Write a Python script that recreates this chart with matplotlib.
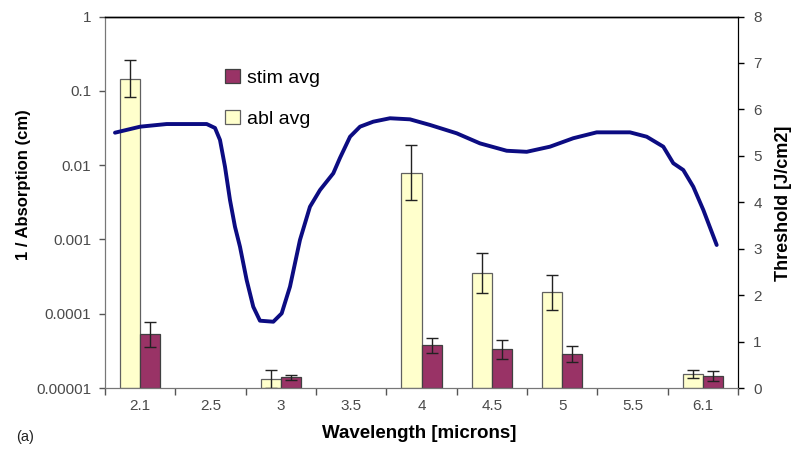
import numpy as np
import matplotlib
matplotlib.use("Agg")
import matplotlib.pyplot as plt
from matplotlib.patches import Patch

plt.rcParams['font.family'] = ['Liberation Sans', 'DejaVu Sans']

# ---- data ----
categories = ["2.1", "2.5", "3", "3.5", "4", "4.5", "5", "5.5", "6.1"]
abl_avg = [6.66, np.nan, 0.19, np.nan, 4.64, 2.47, 2.06, np.nan, 0.30]
abl_err = [0.40, np.nan, 0.20, np.nan, 0.60, 0.43, 0.37, np.nan, 0.08]
stim_avg = [1.16, np.nan, 0.23, np.nan, 0.92, 0.83, 0.73, np.nan, 0.25]
stim_err = [0.27, np.nan, 0.06, np.nan, 0.16, 0.21, 0.18, np.nan, 0.11]

# absorption curve: position along the category axis, 1/absorption (cm)
line_pos = [-0.358, 0.0, 0.377, 0.946, 1.064, 1.135, 1.206, 1.277, 1.348, 1.419,
            1.514, 1.608, 1.703, 1.893, 2.012, 2.130, 2.272, 2.414, 2.557, 2.746,
            2.841, 2.984, 3.126, 3.314, 3.552, 3.836, 4.121, 4.500, 4.832, 5.211,
            5.496, 5.827, 6.158, 6.491, 6.964, 7.202, 7.438, 7.580, 7.722, 7.864,
            8.007, 8.197]
inv_absorption = [0.0273, 0.0329, 0.0357, 0.0357, 0.0316, 0.0218, 0.00951, 0.00339,
                  0.00148, 0.000798, 0.000284, 0.000124, 0.0000805, 0.0000780,
                  0.000101, 0.000231, 0.000982, 0.00275, 0.00462, 0.00776, 0.0125,
                  0.0241, 0.0329, 0.0384, 0.0427, 0.0413, 0.0347, 0.0268, 0.0196,
                  0.0156, 0.0151, 0.0177, 0.0230, 0.0276, 0.0276, 0.0241, 0.0177,
                  0.0106, 0.00859, 0.00512, 0.00249, 0.000841]

left_ticks = [0.00001, 0.0001, 0.001, 0.01, 0.1, 1]
left_labels = ["0.00001", "0.0001", "0.001", "0.01", "0.1", "1"]
right_ticks = [0, 1, 2, 3, 4, 5, 6, 7, 8]

# ---- figure ----
fig = plt.figure(figsize=(7.94, 4.49), dpi=100)
ax = fig.add_axes([105/794, 1-388/449, 633/794, 371.5/449])
ax2 = ax.twinx()

x = np.arange(len(categories))
w = 0.286
abl_col = "#FFFFCC"
stim_col = "#993366"
ax.bar(x - w/2, abl_avg, w, color=abl_col, edgecolor="#606060", linewidth=0.9,
       yerr=abl_err, error_kw=dict(ecolor="#222222", elinewidth=1.0, capsize=4, capthick=1.0))
ax.bar(x + w/2, stim_avg, w, color=stim_col, edgecolor="#404040", linewidth=0.9,
       yerr=stim_err, error_kw=dict(ecolor="#222222", elinewidth=1.0, capsize=4, capthick=1.0))

ax.set_xlim(-0.5, len(categories) - 0.5)
ax.set_ylim(0, 8)
ax.yaxis.tick_right()
ax.set_yticks(right_ticks)
ax.tick_params(axis='y', direction='out', length=4, width=1, pad=7,
               labelsize=11, labelcolor="#4a4a4a", color="black")

# x ticks: marks at category boundaries, labels at centres
ax.set_xticks(np.arange(-0.5, len(categories), 1.0))
ax.set_xticklabels([])
ax.set_xticks(x, minor=True)
ax.set_xticklabels(categories, minor=True)
ax.tick_params(axis='x', which='major', direction='out', length=5, width=1, color="#555555")
ax.tick_params(axis='x', which='minor', length=0, pad=8, labelsize=11, labelcolor="#4a4a4a")

# absorption line (log axis, shown on left)
ax2.plot(line_pos, inv_absorption, color="#0c0c82", linewidth=2.8, solid_capstyle='round',
         solid_joinstyle='round')
ax2.set_yscale('log')
ax2.set_ylim(0.00001, 1)
ax2.yaxis.tick_left()
ax2.set_yticks(left_ticks)
ax2.set_yticklabels(left_labels)
ax2.yaxis.set_minor_locator(matplotlib.ticker.NullLocator())
ax2.tick_params(axis='y', direction='out', length=4, width=1, pad=6,
                labelsize=11, labelcolor="#4a4a4a", color="#555555")

for a in (ax, ax2):
    a.spines['left'].set_color("#777777")
    a.spines['bottom'].set_color("#777777")
    a.spines['right'].set_color("black")
    a.spines['top'].set_color("black")
    a.spines['top'].set_linewidth(1.0)
    a.patch.set_visible(False)

# axis titles
fig.text(23.5/794, 1-185/449, "1 / Absorption (cm)", rotation=90, ha='center', va='center',
         fontsize=12, fontweight='bold')
fig.text(783.5/794, 1-203/449, "Threshold [J/cm2]", rotation=90, ha='center', va='center',
         fontsize=13, fontweight='bold')
fig.text(419/794, 1-433/449, "Wavelength [microns]", ha='center', va='center',
         fontsize=13.5, fontweight='bold')
fig.text(16/794, 1-437/449, "(a)", ha='left', va='center', fontsize=10.5, color="#222222")

# legend
handles = [Patch(facecolor=stim_col, edgecolor="#404040", linewidth=0.9),
           Patch(facecolor=abl_col, edgecolor="#606060", linewidth=0.9)]
ax2.legend(handles, ["stim avg", "abl avg"], loc='upper left',
           bbox_to_anchor=(225/794, 1-69/449), bbox_transform=fig.transFigure,
           frameon=False, fontsize=14, handlelength=0.75, handleheight=0.75,
           handletextpad=0.4, labelspacing=1.2, borderpad=0, borderaxespad=0)

fig.savefig("out.png", dpi=100)
